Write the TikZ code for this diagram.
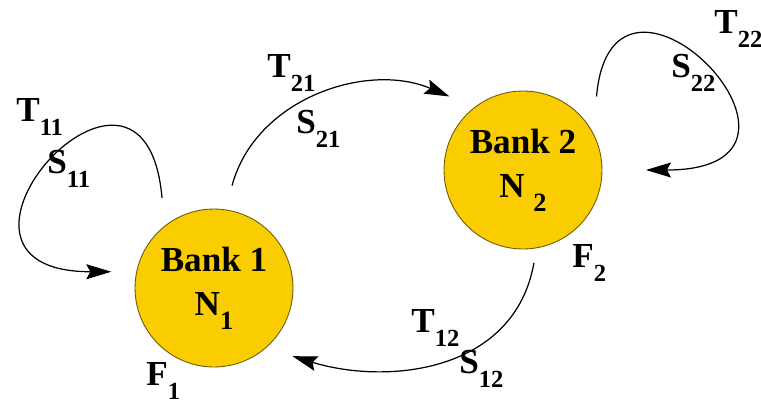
\documentclass[tikz,border=0pt]{standalone}
\usepackage{fontspec}
\setmainfont{Liberation Serif}
\usetikzlibrary{arrows.meta}

\definecolor{bankgold}{RGB}{250,205,0}
\definecolor{bankrim}{RGB}{110,90,10}
\newcommand{\idx}[3][14]{#2\raisebox{-0.4em}{\fontsize{#1}{#1}\selectfont #3}}

\begin{document}
\begin{tikzpicture}[x=0.02cm, y=-0.02cm,
  bank/.style={circle, draw=bankrim, line width=0.5pt, fill=bankgold,
               minimum size=3.16cm, inner sep=0pt, outer sep=0.5cm,
               align=center, font=\fontsize{20}{25}\selectfont\bfseries},
  lbl/.style={anchor=base west, inner sep=0pt, font=\fontsize{20}{22}\selectfont\bfseries},
  flow/.style={-{Stealth[length=5mm, width=3mm, inset=0.8mm]}, line width=0.7pt}
]
\useasboundingbox (0,0) rectangle (761,403);

% banks
\node[bank] (bank1) at (214,288) {Bank 1\\N\idx[15]{}{1}};
\node[bank] (bank2) at (523,170) {Bank 2\\N\hspace{0.25em}\idx[15]{}{2}};

% transitions
\draw[flow] (bank1.120) .. controls +(95:4cm) and +(180:4.2cm) .. (bank1.171);
\draw[flow] (bank1.80) .. controls +(75:1.8cm) and +(157:1.8cm) .. (bank2.135);
\draw[flow, shorten >=0.38cm] (bank2.45) .. controls +(85:3.6cm) and +(0:4.6cm) .. (bank2.0);
\draw[flow, shorten <=-0.22cm] (bank2.-85) .. controls +(-100:2cm) and +(-17:2cm) .. (bank1.-41);

% labels
\node[lbl] (t11) at (16,121) {\idx{T}{11}};
\node[lbl] (s11) at (47,173) {\idx{S}{11}};
\node[lbl] (t21) at (267,77) {\idx{T}{21}};
\node[lbl] (s21) at (296,133) {\idx{S}{21}};
\node[lbl] (t22) at (714,33) {\idx{T}{22}};
\node[lbl] (s22) at (671,77) {\idx{S}{22}};
\node[lbl] (t12) at (411,332) {\idx{T}{12}};
\node[lbl] (s12) at (459,373) {\idx{S}{12}};
\node[lbl] (f1) at (146,385) {\idx{F}{1}};
\node[lbl] (f2) at (572,267) {\idx{F}{2}};
\end{tikzpicture}
\end{document}
